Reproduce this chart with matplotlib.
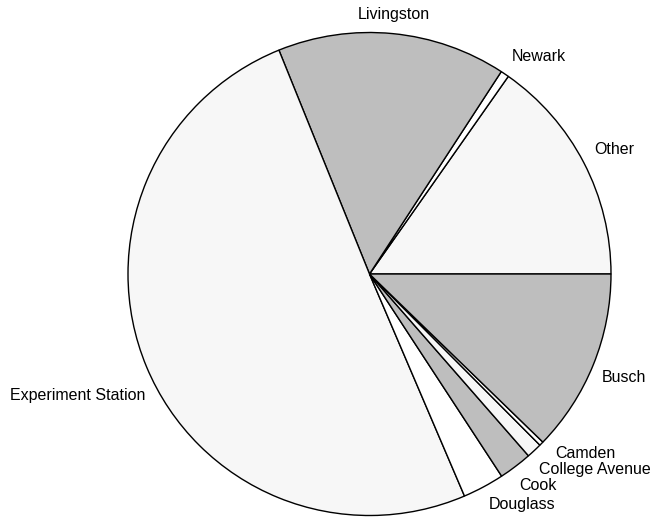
import numpy as np
import matplotlib
matplotlib.use('Agg')
import matplotlib.pyplot as plt

# slice shares (percent), counter-clockwise from 3 o'clock
labels = ['Other', 'Newark', 'Livingston', 'Experiment Station', 'Douglass',
          'Cook', 'College Avenue', 'Camden', 'Busch']
values = [15.25, 0.56, 15.3, 50.3, 2.78, 2.22, 1.03, 0.28, 12.25]
colors = ['#f7f7f7', '#ffffff', '#bebebe'] * 3

W, H = 659, 519
cx, cy = 369.5, H - 274
R = 241.5
R_SIDE = 251.0    # labels near 3/9 o'clock: box kept this far out
R_CORNER = 253.0  # other labels: near corner of box sits here
FS = 11.5
LINE = FS * 100 / 72

plt.rcParams['font.family'] = ['Liberation Sans', 'DejaVu Sans']

fig = plt.figure(figsize=(W / 100, H / 100), dpi=100)
ax = fig.add_axes([0, 0, 1, 1])

ax.pie(values, colors=colors, startangle=0, counterclock=True,
       radius=R, center=(cx, cy),
       wedgeprops=dict(edgecolor='black', linewidth=1.0))
ax.set_xlim(0, W)
ax.set_ylim(0, H)
ax.set_aspect('equal')
ax.axis('off')

renderer = fig.canvas.get_renderer()


def near_dist(px, py, w, h):
    nx = min(max(0.0, px - w / 2), px + w / 2)
    ny = min(max(0.0, py - h / 2), py + h / 2)
    return np.hypot(nx, ny)


def layout(theta, w, h):
    """return text anchor, alignment and the box (x0, y0) of a label"""
    ux, uy = np.cos(np.radians(theta)), np.sin(np.radians(theta))
    if abs(uy) < 0.45:
        lo, hi = 0.0, 600.0
        for _ in range(50):
            mid = (lo + hi) / 2
            if near_dist(ux * mid, uy * mid, w, h) < R_SIDE:
                lo = mid
            else:
                hi = mid
        px, py = ux * hi, uy * hi
        return (px, py), 'center', 'center', (px - w / 2, py - h / 2)
    ax_, ay_ = ux * R_CORNER, uy * R_CORNER
    if ux > 0.15:
        ha, x0 = 'left', ax_
    elif ux < -0.15:
        ha, x0 = 'right', ax_ - w
    else:
        ha, x0 = 'center', ax_ - w / 2
    if uy > 0:
        va, y0 = 'bottom', ay_
    else:
        va, y0 = 'top', ay_ - h
    return (ax_, ay_), ha, va, (x0, y0)


cum = np.cumsum([0] + values)
angles = list((cum[:-1] + cum[1:]) / 2 * 3.6)

texts = [ax.text(0, 0, lab, fontsize=FS) for lab in labels]
sizes = [(t.get_window_extent(renderer).width, LINE) for t in texts]

# spread crowded neighbours apart along the circle
n = len(labels)
for _ in range(3000):
    boxes = [layout(angles[i], *sizes[i])[3] for i in range(n)]
    moved = False
    for i in range(n - 1):
        j = i + 1
        (x0, y0), (x1, y1) = boxes[i], boxes[j]
        wi, hi_ = sizes[i]
        wj, hj = sizes[j]
        if x0 < x1 + wj and x1 < x0 + wi and y0 < y1 + hj and y1 < y0 + hi_:
            angles[i] -= 0.1
            angles[j] += 0.1
            moved = True
    if not moved:
        break

for i, t in enumerate(texts):
    (px, py), ha, va, _ = layout(angles[i], *sizes[i])
    t.set_position((cx + px, cy + py))
    t.set_ha(ha)
    t.set_va(va)

fig.savefig('out.png', dpi=100)
